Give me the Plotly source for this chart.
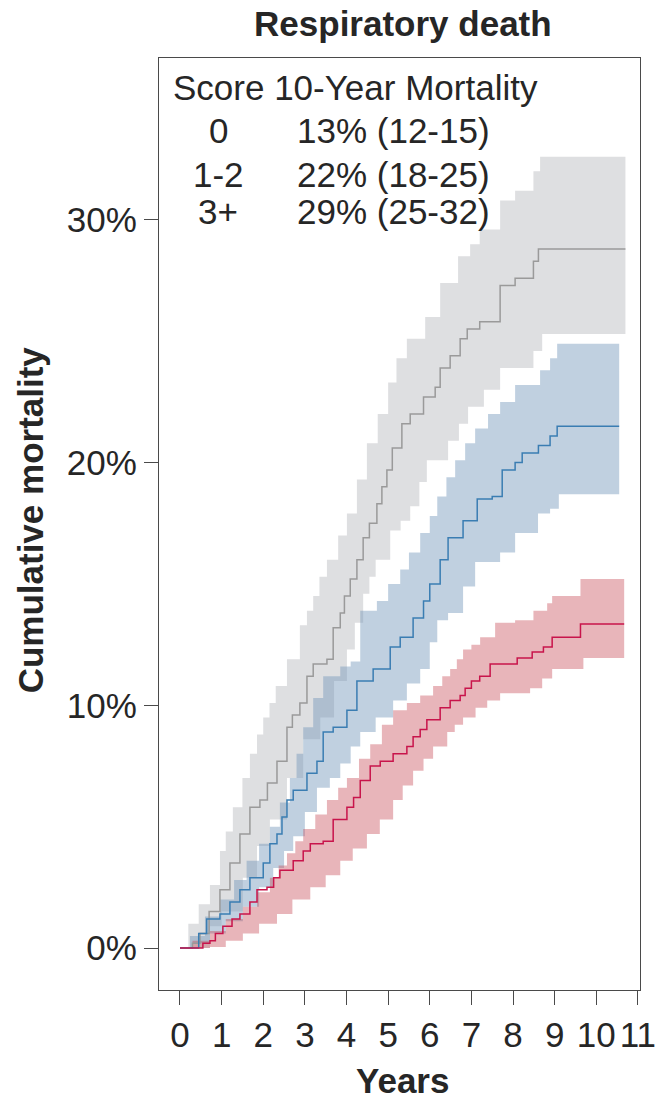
import plotly.graph_objects as go

# Cumulative incidence of respiratory death by risk score group (percent)
# Score 0
t0 = [0, 0.4, 0.55, 0.72, 0.85, 1.03, 1.25, 1.44, 1.68, 1.85, 2.09, 2.25, 2.4, 2.72, 2.96,
      3.13, 3.44, 3.68, 4.01, 4.17, 4.33, 4.57, 4.81, 5.12, 5.45, 5.6, 5.77, 5.93, 6.25,
      6.49, 6.73, 6.85, 7.0, 7.2, 7.45, 8.1, 8.46, 8.73, 8.94, 9.62, 10.67]
est0 = [0, 0, 0.2, 0.3, 0.6, 0.9, 1.2, 1.4, 1.9, 2.4, 2.5, 2.9, 3.2, 3.6, 4.0,
        4.3, 4.4, 5.3, 5.8, 6.2, 6.9, 7.5, 7.7, 8.0, 8.3, 8.7, 9.0, 9.4, 9.9,
        10.2, 10.4, 10.7, 11.0, 11.2, 11.7, 11.95, 12.2, 12.4, 12.8, 13.35, 13.35]
t0_hi = [0, 0.3, 0.72, 1.1, 1.51, 1.85, 2.16, 2.37, 2.57, 2.77, 2.96, 3.25, 3.53, 3.8, 4.01,
         4.3, 4.57, 4.85, 5.12, 5.45, 5.77, 6.08, 6.3, 6.49, 6.65, 6.8, 7.0, 7.21, 7.57,
         8.05, 8.49, 8.82, 8.94, 9.62, 10.67]
hi0 = [0, 0.3, 0.7, 1.2, 1.7, 2.3, 2.9, 3.4, 3.9, 4.4, 4.9, 5.5, 6.1, 6.6, 7.0,
       7.8, 8.4, 9.2, 9.8, 10.1, 10.4, 10.8, 11.2, 11.5, 11.9, 12.3, 12.5, 12.8, 13.4,
       13.5, 13.9, 14.2, 14.5, 15.2, 15.2]
t0_lo = [0, 0.72, 1.1, 1.51, 1.9, 2.33, 2.7, 3.13, 3.5, 3.85, 4.15, 4.49, 4.8, 5.12, 5.35,
         5.6, 5.85, 6.08, 6.42, 6.6, 6.8, 7.1, 7.38, 7.69, 8.41, 8.7, 8.94, 9.69, 10.67]
lo0 = [0, 0.04, 0.3, 0.6, 1.0, 1.4, 2.0, 2.5, 3.0, 3.6, 4.1, 4.7, 5.3, 6.1, 6.7,
       7.3, 7.8, 8.3, 8.9, 9.2, 9.5, 9.9, 10.2, 10.5, 10.7, 11.1, 11.5, 11.95, 11.95]

# Score 1-2
t1 = [0, 0.3, 0.45, 0.64, 0.96, 1.2, 1.44, 1.68, 2.0, 2.16, 2.33, 2.45, 2.57, 2.72, 3.05,
      3.29, 3.44, 3.68, 4.01, 4.25, 4.64, 5.05, 5.29, 5.6, 5.85, 6.0, 6.25, 6.44, 6.8,
      7.14, 7.5, 7.74, 8.05, 8.22, 8.61, 8.89, 9.06, 10.55]
est1 = [0, 0, 0.6, 1.2, 1.4, 1.9, 2.4, 2.9, 3.5, 4.3, 4.7, 5.4, 6.1, 6.5, 7.2,
        7.7, 8.9, 9.1, 9.8, 11.0, 11.5, 12.4, 12.8, 13.6, 14.3, 15.0, 16.0, 16.9, 17.6,
        18.5, 18.6, 19.7, 20.0, 20.4, 20.7, 21.1, 21.5, 21.5]
t1_hi = [0, 0.24, 0.6, 0.96, 1.3, 1.6, 1.9, 2.16, 2.4, 2.64, 2.8, 2.96, 3.2, 3.44, 3.85,
         4.1, 4.33, 4.73, 5.0, 5.29, 5.5, 5.77, 6.0, 6.18, 6.4, 6.61, 6.85, 7.09, 7.4,
         7.69, 8.05, 8.65, 8.89, 9.06, 10.55]
hi1 = [0, 0.5, 1.3, 2.0, 2.8, 3.6, 4.3, 5.0, 6.0, 7.0, 8.0, 9.1, 10.3, 11.2, 11.6,
       11.8, 13.9, 14.3, 15.0, 15.6, 16.3, 17.1, 17.8, 18.6, 19.4, 20.1, 20.8, 21.4, 22.0,
       22.5, 23.2, 23.8, 24.3, 24.9, 24.9]
t1_lo = [0, 0.3, 0.72, 1.1, 1.51, 1.9, 2.24, 2.5, 2.72, 3.0, 3.29, 3.6, 3.85, 4.1, 4.33,
         4.7, 5.12, 5.45, 5.77, 6.0, 6.18, 6.44, 6.8, 7.09, 7.69, 8.05, 8.6, 8.89, 9.1, 10.55]
lo1 = [0, 0.2, 0.6, 1.1, 1.7, 2.5, 3.3, 4.0, 4.6, 5.6, 6.6, 7.0, 7.6, 8.3, 8.9,
       9.5, 10.2, 10.9, 11.5, 12.6, 13.5, 13.8, 14.9, 15.9, 16.3, 17.1, 17.9, 18.1, 18.7, 18.7]

# Score 3+
t3 = [0, 0.3, 0.48, 0.7, 0.96, 1.2, 1.44, 1.68, 1.92, 2.1, 2.33, 2.57, 2.7, 2.88, 3.05,
      3.2, 3.53, 3.68, 3.85, 3.95, 4.09, 4.25, 4.4, 4.55, 4.73, 4.85, 4.97, 5.1, 5.33,
      5.53, 5.85, 6.13, 6.25, 6.49, 6.73, 6.9, 7.2, 7.69, 8.05, 8.49, 8.61, 10.7]
est3 = [0, 0.2, 0.6, 1.5, 2.4, 3.5, 4.7, 5.8, 6.1, 6.8, 7.7, 9.1, 9.6, 10.1, 11.2,
        11.7, 11.9, 13.2, 13.8, 14.5, 15.2, 16.0, 16.9, 17.5, 18.3, 19.0, 19.7, 20.6, 21.6,
        22.0, 22.7, 23.1, 23.9, 24.4, 25.1, 25.5, 25.8, 27.3, 27.6, 28.3, 28.8, 28.8]
t3_hi = [0, 0.2, 0.45, 0.72, 0.96, 1.1, 1.27, 1.5, 1.68, 1.85, 2.0, 2.15, 2.3, 2.57, 2.88,
         3.05, 3.2, 3.35, 3.53, 3.8, 4.01, 4.25, 4.49, 4.75, 5.0, 5.2, 5.45, 5.89, 6.25,
         6.68, 6.97, 7.2, 7.69, 8.05, 8.49, 8.65, 10.7]
hi3 = [0, 1.0, 1.8, 2.6, 4.0, 4.8, 5.8, 7.0, 8.0, 8.8, 9.5, 10.1, 10.8, 11.9, 13.3,
       13.9, 14.5, 15.3, 16.0, 17.0, 17.9, 19.3, 20.8, 22.0, 23.3, 24.3, 25.1, 26.0, 27.4,
       28.5, 29.0, 29.6, 30.8, 31.2, 32.0, 32.6, 32.6]
t3_lo = [0, 0.72, 1.0, 1.51, 1.85, 2.16, 2.57, 2.96, 3.37, 3.7, 4.01, 4.2, 4.4, 4.55, 4.7,
         5.05, 5.3, 5.53, 5.75, 5.93, 6.44, 6.7, 6.92, 7.3, 7.69, 8.49, 8.7, 10.7]
lo3 = [0, 0.9, 1.5, 2.9, 4.2, 5.3, 7.0, 8.6, 9.5, 11.0, 12.3, 13.4, 14.6, 15.3, 16.0,
       17.2, 17.6, 18.2, 19.2, 20.1, 20.9, 21.6, 22.3, 23.0, 23.9, 24.6, 25.3, 25.3]

score_labels = ["0", "1-2", "3+"]
mortality_labels = ["13% (12-15)", "22% (18-25)", "29% (25-32)"]
x_ticks = list(range(0, 12))
y_ticks = [0, 10, 20, 30]
y_tick_text = ["0%", "10%", "20%", "30%"]


def step_xy(t, v):
    """Expand a right-continuous step function into polyline vertices."""
    xs, ys = [t[0]], [v[0]]
    for i in range(1, len(t)):
        xs += [t[i], t[i]]
        ys += [v[i - 1], v[i]]
    return xs, ys


groups = [
    # (time, estimate, band-upper time/values, band-lower time/values, line colour, band colour)
    (t3, est3, t3_hi, hi3, t3_lo, lo3, "#9a9a9a", "rgba(160,163,170,0.35)"),
    (t1, est1, t1_hi, hi1, t1_lo, lo1, "#3a7db2", "rgba(115,151,187,0.45)"),
    (t0, est0, t0_hi, hi0, t0_lo, lo0, "#c8144b", "rgba(198,70,83,0.40)"),
]

fig = go.Figure()

for (t, est, th, hi, tl, lo, lc, bc) in groups:
    ux, uy = step_xy(th, hi)
    lx, ly = step_xy(tl, lo)
    fig.add_trace(go.Scatter(
        x=ux + lx[::-1], y=uy + ly[::-1], mode="lines", fill="toself",
        fillcolor=bc, line=dict(width=0), hoverinfo="skip", showlegend=False))

for (t, est, th, hi, tl, lo, lc, bc) in groups:
    fig.add_trace(go.Scatter(
        x=t, y=est, mode="lines", line=dict(color=lc, width=1.5, shape="hv"),
        showlegend=False))

txt = "#262626"
font_main = "Liberation Sans, Arial, sans-serif"
fs = 35

annotations = [
    dict(text="Score 10-Year Mortality", x=0.025, y=0.9684, xanchor="left", yanchor="middle",
         font=dict(size=fs, color=txt)),
    dict(text="<b>Cumulative mortality</b>", x=-0.268, y=0.504, textangle=-90,
         xanchor="center", yanchor="middle", font=dict(size=fs, color=txt)),
    dict(text="<b>Years</b>", x=0.507, y=-0.0976, xanchor="center", yanchor="middle",
         font=dict(size=fs, color=txt)),
]
row_y = [0.9222, 0.8755, 0.8353]
for s, m, yy in zip(score_labels, mortality_labels, row_y):
    annotations.append(dict(text=s, x=0.1227, y=yy, xanchor="center", yanchor="middle",
                            font=dict(size=fs, color=txt)))
    annotations.append(dict(text=m, x=0.2828, y=yy, xanchor="left", yanchor="middle",
                            font=dict(size=fs, color=txt)))
for a in annotations:
    a.update(xref="paper", yref="paper", showarrow=False)

axis_common = dict(showline=True, mirror=True, linecolor="#4a4a4a", linewidth=1.3,
                   ticks="outside", ticklen=14, tickwidth=1.3, tickcolor="#4a4a4a",
                   showgrid=False, zeroline=False,
                   tickfont=dict(size=fs, color=txt, family=font_main))

fig.update_layout(
    width=667, height=1102,
    margin=dict(l=159, r=27, t=58, b=112),
    paper_bgcolor="white", plot_bgcolor="white",
    font=dict(family=font_main, color=txt),
    title=dict(text="<b>Respiratory death</b>", x=0.604, xanchor="center",
               y=1 - 24 / 1102, yanchor="middle", yref="container",
               font=dict(size=fs, color=txt)),
    xaxis=dict(range=[-0.504, 11.05], tickvals=x_ticks, **axis_common),
    yaxis=dict(range=[-1.73, 36.67], tickvals=y_ticks, ticktext=y_tick_text,
               **axis_common),
    annotations=annotations,
)

fig.write_html("out.html")
